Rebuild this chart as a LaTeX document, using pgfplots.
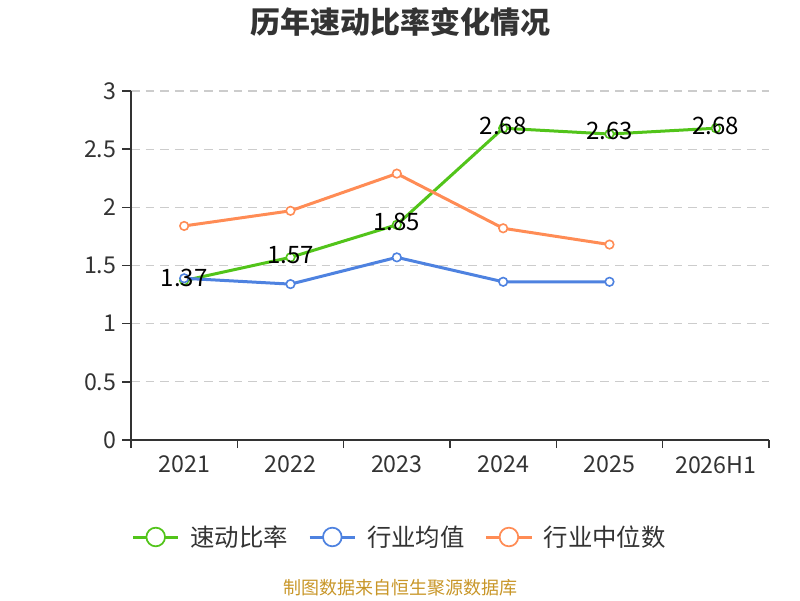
\documentclass[border=0pt]{standalone}
\usepackage{pgfplots}
\pgfplotsset{compat=1.18}
\usepackage{fontspec}
\setmainfont{Noto Sans CJK SC}
\definecolor{cgreen}{RGB}{82,196,26}
\definecolor{cblue}{RGB}{78,130,224}
\definecolor{corange}{RGB}{255,140,85}
\definecolor{axisgray}{RGB}{51,51,51}
\definecolor{txt}{RGB}{51,51,51}
\definecolor{foot}{RGB}{200,150,40}
\definecolor{gridc}{RGB}{204,204,204}
\begin{document}
\begin{tikzpicture}[x=1pt,y=1pt]
\path (-98.25,-120) rectangle (501.75,330);
\begin{axis}[
  at={(0,0)}, anchor=south west,
  scale only axis, width=478.5pt, height=261.75pt,
  xmin=-0.5, xmax=5.5, ymin=0, ymax=3,
  clip=false,
  axis lines*=left,
  axis line style={axisgray, line width=1.2pt},
  xtick={0,1,2,3,4,5},
  xticklabels={2021,2022,2023,2024,2025,2026H1},
  minor xtick={-0.5,0.5,1.5,2.5,3.5,4.5,5.5},
  ytick={0,0.5,1,1.5,2,2.5,3},
  yticklabels={0,0.5,1,1.5,2,2.5,3},
  tick align=outside,
  major tick length=6.5pt,
  minor tick length=6pt,
  x tick style={draw=none},
  minor x tick style={draw=axisgray, line width=1.2pt},
  y tick style={draw=axisgray, line width=1.2pt},
  ymajorgrids,
  grid style={gridc, dash pattern=on 6.5pt off 4.5pt, line width=0.9pt},
  tick label style={font=\fontsize{17.4}{20}\selectfont, text=txt},
  xticklabel style={yshift=-2pt},
  yticklabel style={xshift=-1pt},
  /pgf/number format/assume math mode=true,
  legend style={
    at={(201.75pt,-72.75pt)}, anchor=center,
    draw=none, fill=none,
    font=\fontsize{18.3}{21}\selectfont, text=txt,
    legend columns=3,
    /tikz/every odd column/.append style={column sep=6pt},
    /tikz/every even column/.append style={column sep=13pt},
  },
  legend image code/.code={
    \draw[#1, mark=none] (0pt,0pt) -- (34pt,0pt);
    \draw[#1, mark=none, line width=1.3pt, fill=white] (17pt,0pt) circle (7pt);
  },
]
\addplot[cgreen, line width=2.25pt, mark=*, mark size=3.2pt, mark options={fill=white, line width=1.2pt}]
  coordinates {(0,1.37) (1,1.57) (2,1.85) (3,2.68) (4,2.63) (5,2.68)};
\addlegendentry{速动比率}
\addplot[cblue, line width=2.25pt, mark=*, mark size=3.2pt, mark options={fill=white, line width=1.2pt}]
  coordinates {(0,1.39) (1,1.34) (2,1.57) (3,1.36) (4,1.36)};
\addlegendentry{行业均值}
\addplot[corange, line width=2.25pt, mark=*, mark size=3.2pt, mark options={fill=white, line width=1.2pt}]
  coordinates {(0,1.84) (1,1.97) (2,2.29) (3,1.82) (4,1.68)};
\addlegendentry{行业中位数}
\addplot[draw=none, mark=none, forget plot,
  nodes near coords,
  nodes near coords style={anchor=center, yshift=2pt, text=black, font=\fontsize{18}{21}\selectfont,
    /pgf/number format/fixed, /pgf/number format/precision=2, /pgf/number format/fixed zerofill}]
  coordinates {(0,1.37) (1,1.57) (2,1.85) (3,2.68) (4,2.63) (5,2.68)};
\end{axis}
\node[font=\fontsize{22.5}{26}\selectfont\bfseries, text=txt] at (201.75,313.5) {历年速动比率变化情况};
\node[font=\fontsize{13.5}{16}\selectfont, text=foot] at (201.75,-111) {制图数据来自恒生聚源数据库};
\end{tikzpicture}
\end{document}
